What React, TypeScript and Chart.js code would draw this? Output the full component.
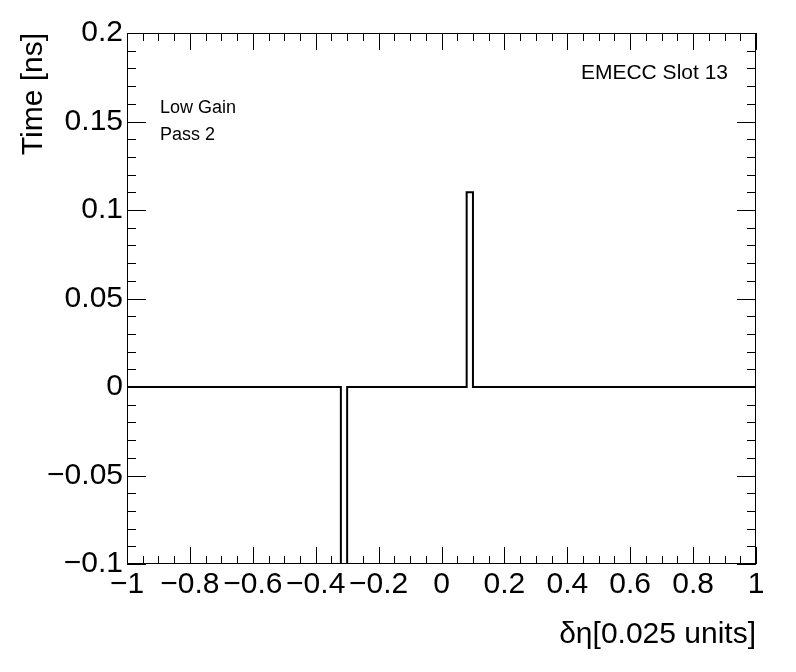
import React, { useEffect, useRef } from 'react';
import { Chart, registerables } from 'chart.js';

Chart.register(...registerables);

// Histogram binning (100 bins from -1 to 1)
const X_MIN = -1;
const X_MAX = 1;
const N_BINS = 100;

// Bin contents (Time [ns]) per bin, left to right
const binValues: number[] = [
  0, 0, 0, 0, 0, 0, 0, 0, 0, 0,
  0, 0, 0, 0, 0, 0, 0, 0, 0, 0,
  0, 0, 0, 0, 0, 0, 0, 0, 0, 0,
  0, 0, 0, 0, -0.15, 0, 0, 0, 0, 0,
  0, 0, 0, 0, 0, 0, 0, 0, 0, 0,
  0, 0, 0, 0, 0.11, 0, 0, 0, 0, 0,
  0, 0, 0, 0, 0, 0, 0, 0, 0, 0,
  0, 0, 0, 0, 0, 0, 0, 0, 0, 0,
  0, 0, 0, 0, 0, 0, 0, 0, 0, 0,
  0, 0, 0, 0, 0, 0, 0, 0, 0, 0,
];

const xTickValues = [-1, -0.8, -0.6, -0.4, -0.2, 0, 0.2, 0.4, 0.6, 0.8, 1];
const xTickLabels = ['\u22121', '\u22120.8', '\u22120.6', '\u22120.4', '\u22120.2', '0', '0.2', '0.4', '0.6', '0.8', '1'];
const yTickValues = [-0.1, -0.05, 0, 0.05, 0.1, 0.15, 0.2];
const yTickLabels = ['\u22120.1', '\u22120.05', '0', '0.05', '0.1', '0.15', '0.2'];
const Y_MIN = -0.1;
const Y_MAX = 0.2;
const X_MINOR_STEP = 0.05;
const Y_MINOR_STEP = 0.01;

const xTitle = '\u03B4\u03B7[0.025 units]';
const yTitle = 'Time [ns]';
const labelTopRight = 'EMECC Slot 13';
const labelLines = ['Low Gain', 'Pass 2'];

const FONT = "'Liberation Sans', Arial, Helvetica, sans-serif";

const framePlugin = {
  id: 'rootFrame',
  afterDraw(chart: any) {
    const { ctx, chartArea, scales } = chart;
    const { left, right, top, bottom } = chartArea;
    const xs = scales.x;
    const ys = scales.y;
    ctx.save();
    ctx.strokeStyle = '#000';
    ctx.lineWidth = 1;
    ctx.strokeRect(left + 0.5, top + 0.5, right - left - 1, bottom - top - 1);

    ctx.beginPath();
    // x ticks (bottom & top)
    const nx = Math.round((X_MAX - X_MIN) / X_MINOR_STEP);
    for (let i = 0; i <= nx; i++) {
      const v = X_MIN + i * X_MINOR_STEP;
      const major = i % 4 === 0;
      const len = major ? 17 : 8;
      const px = Math.round(xs.getPixelForValue(v)) + 0.5;
      ctx.moveTo(px, bottom);
      ctx.lineTo(px, bottom - len);
      ctx.moveTo(px, top);
      ctx.lineTo(px, top + len);
    }
    // y ticks (left & right)
    const ny = Math.round((Y_MAX - Y_MIN) / Y_MINOR_STEP);
    for (let i = 0; i <= ny; i++) {
      const v = Y_MIN + i * Y_MINOR_STEP;
      const major = i % 5 === 0;
      const len = major ? 19 : 9;
      const py = Math.round(ys.getPixelForValue(v)) + 0.5;
      ctx.moveTo(left, py);
      ctx.lineTo(left + len, py);
      ctx.moveTo(right, py);
      ctx.lineTo(right - len, py);
    }
    ctx.stroke();

    ctx.fillStyle = '#000';
    ctx.textBaseline = 'alphabetic';
    ctx.font = `21px ${FONT}`;
    ctx.textAlign = 'right';
    ctx.fillText(labelTopRight, 728, 79);
    ctx.font = `18px ${FONT}`;
    ctx.textAlign = 'left';
    ctx.fillText(labelLines[0], 160, 113);
    ctx.fillText(labelLines[1], 160, 140);
    ctx.restore();
  },
};

export default function App() {
  const canvasRef = useRef<HTMLCanvasElement | null>(null);

  useEffect(() => {
    if (!canvasRef.current) return;
    const binWidth = (X_MAX - X_MIN) / N_BINS;
    // left edge of each bin with its content, then the final right edge
    const points = binValues.map((v, i) => ({ x: X_MIN + i * binWidth, y: v }));
    points.push({ x: X_MAX, y: binValues[binValues.length - 1] });

    const chart = new Chart(canvasRef.current, {
      type: 'line',
      data: {
        datasets: [
          {
            data: points,
            stepped: 'before',
            borderColor: '#000',
            borderWidth: 2,
            pointRadius: 0,
            fill: false,
            clip: 0,
          } as any,
        ],
      },
      options: {
        animation: false,
        responsive: false,
        devicePixelRatio: 1,
        parsing: false as any,
        layout: { padding: { left: 0, right: 40, top: 33, bottom: 0 } },
        plugins: {
          legend: { display: false },
          tooltip: { enabled: false },
        },
        scales: {
          x: {
            type: 'linear',
            min: X_MIN,
            max: X_MAX,
            afterBuildTicks: (s: any) => {
              s.ticks = xTickValues.map((v) => ({ value: v }));
            },
            afterFit: (s: any) => {
              s.height = 108;
            },
            ticks: {
              autoSkip: false,
              maxRotation: 0,
              minRotation: 0,
              padding: 3,
              color: '#000',
              font: { family: FONT, size: 30 },
              callback: (_v: any, i: number) => xTickLabels[i],
            },
            grid: { display: false, drawTicks: false },
            border: { display: false },
            title: {
              display: true,
              text: xTitle,
              align: 'end',
              color: '#000',
              font: { family: FONT, size: 30 },
              padding: { top: 0, bottom: 19 },
            },
          },
          y: {
            type: 'linear',
            min: Y_MIN,
            max: Y_MAX,
            afterBuildTicks: (s: any) => {
              s.ticks = yTickValues.map((v) => ({ value: v }));
            },
            afterFit: (s: any) => {
              s.width = 127;
            },
            ticks: {
              autoSkip: false,
              padding: 4,
              color: '#000',
              font: { family: FONT, size: 30 },
              callback: (_v: any, i: number) => yTickLabels[i],
            },
            grid: { display: false, drawTicks: false },
            border: { display: false },
            title: {
              display: true,
              text: yTitle,
              align: 'end',
              color: '#000',
              font: { family: FONT, size: 30 },
              padding: { top: 16, bottom: 0 },
            },
          },
        },
      },
      plugins: [framePlugin],
    });
    return () => chart.destroy();
  }, []);

  return (
    <div style={{ position: 'absolute', left: 0, top: 0, width: 796, height: 672, background: '#fff' }}>
      <canvas ref={canvasRef} width={796} height={672} style={{ width: 796, height: 672, display: 'block' }} />
    </div>
  );
}
